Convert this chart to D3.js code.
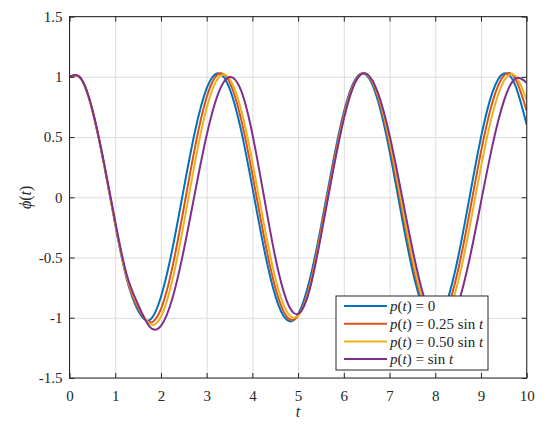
<!DOCTYPE html>
<html>
<head>
<meta charset="utf-8">
<script src="https://d3js.org/d3.v7.min.js"></script>
<style>
  body { margin: 0; background: #fff; }
  svg text { font-family: "Liberation Serif", "DejaVu Serif", serif; fill: #262626; }
  .grid line { stroke: #dcdcdc; stroke-width: 1; }
  .axis line { stroke: #262626; }
  .axis path { display: none; }
</style>
</head>
<body>
<div id="chart"></div>
<script>
// time samples
const tVals = [0, 0.25, 0.5, 0.75, 1, 1.25, 1.5, 1.75, 2, 2.25, 2.5, 2.75, 3, 3.25, 3.5, 3.75,
  4, 4.25, 4.5, 4.75, 5, 5.25, 5.5, 5.75, 6, 6.25, 6.5, 6.75, 7, 7.25, 7.5, 7.75,
  8, 8.25, 8.5, 8.75, 9, 9.25, 9.5, 9.75, 10];

// phi(t), one array per p(t)
const phiP0 = [1.00, 0.984, 0.721, 0.283, -0.224, -0.674, -0.94, -1.020, -0.826, -0.429, 0.072, 0.556, 0.904, 1.030, 0.905, 0.562,
  0.082, -0.417, -0.816, -1.017, -0.972, -0.691, -0.243, 0.263, 0.707, 0.978, 1.013, 0.798, 0.384, -0.124, -0.603, -0.930,
  -1.028, -0.871, -0.498, 0.000, 0.498, 0.871, 1.028, 0.930, 0.603];
const phiP025 = [1.00, 0.984, 0.722, 0.286, -0.218, -0.665, -0.92, -1.038, -0.928, -0.582, -0.089, 0.425, 0.830, 1.022, 0.956, 0.653,
  0.190, -0.320, -0.749, -0.990, -0.985, -0.734, -0.275, 0.230, 0.685, 0.968, 1.020, 0.830, 0.440, -0.056, -0.541, -0.898,
  -1.039, -0.934, -0.603, -0.128, 0.377, 0.789, 1.010, 0.984, 0.717];
const phiP050 = [1.00, 0.985, 0.724, 0.290, -0.210, -0.655, -0.90, -1.050, -0.992, -0.689, -0.219, 0.301, 0.741, 0.989, 0.985, 0.732,
  0.294, -0.215, -0.668, -0.946, -0.983, -0.755, -0.305, 0.200, 0.660, 0.958, 1.023, 0.847, 0.473, -0.015, -0.503, -0.877,
  -1.053, -0.989, -0.700, -0.251, 0.251, 0.690, 0.964, 1.007, 0.808];
const phiP1 = [1.00, 0.988, 0.728, 0.296, -0.200, -0.640, -0.89, -1.073, -1.068, -0.840, -0.438, 0.049, 0.515, 0.858, 0.998, 0.889,
  0.526, 0.015, -0.496, -0.857, -0.968, -0.770, -0.320, 0.190, 0.650, 0.955, 1.024, 0.862, 0.515, 0.053, -0.427, -0.826,
  -1.060, -1.082, -0.885, -0.512, -0.040, 0.429, 0.798, 0.985, 0.951];

const legendLabels = ["p(t) = 0", "p(t) = 0.25 sin t", "p(t) = 0.50 sin t", "p(t) = sin t"];
const colors = ["#0072BD", "#D95319", "#EDB120", "#7E2F8E"];
const xTicks = [0, 1, 2, 3, 4, 5, 6, 7, 8, 9, 10];
const yTicks = [-1.5, -1, -0.5, 0, 0.5, 1, 1.5];

const W = 549, H = 431;
const pLeft = 69.5, pRight = 526.7, pTop = 16.6, pBottom = 378;

const svg = d3.select("#chart").append("svg")
  .attr("width", W).attr("height", H);

const x = d3.scaleLinear().domain([0, 10]).range([pLeft, pRight]);
const y = d3.scaleLinear().domain([-1.5, 1.5]).range([pBottom, pTop]);

// grid
svg.append("g").attr("class", "grid")
  .attr("transform", `translate(0,${pBottom})`)
  .call(d3.axisBottom(x).tickValues(xTicks).tickSize(-(pBottom - pTop)).tickFormat(""))
  .call(g => g.select(".domain").remove());
svg.append("g").attr("class", "grid")
  .attr("transform", `translate(${pLeft},0)`)
  .call(d3.axisLeft(y).tickValues(yTicks).tickSize(-(pRight - pLeft)).tickFormat(""))
  .call(g => g.select(".domain").remove());

// curves
const series = [phiP0, phiP025, phiP050, phiP1];
const line = d3.line()
  .x((d, i) => x(tVals[i]))
  .y(d => y(d))
  .curve(d3.curveNatural);

svg.append("clipPath").attr("id", "clip")
  .append("rect").attr("x", pLeft).attr("y", pTop)
  .attr("width", pRight - pLeft).attr("height", pBottom - pTop);

svg.append("g").attr("clip-path", "url(#clip)")
  .selectAll("path")
  .data(series)
  .join("path")
  .attr("d", line)
  .attr("fill", "none")
  .attr("stroke", (d, i) => colors[i])
  .attr("stroke-width", 2);

// axes, ticks pointing inward
svg.append("g").attr("class", "axis")
  .attr("transform", `translate(0,${pBottom})`)
  .call(d3.axisBottom(x).tickValues(xTicks).tickSize(-5).tickPadding(12).tickFormat(d3.format("d")))
  .call(g => g.selectAll("text").attr("font-size", 15).attr("font-family", null));
svg.append("g").attr("class", "axis")
  .attr("transform", `translate(0,${pTop})`)
  .call(d3.axisTop(x).tickValues(xTicks).tickSize(-5).tickFormat(""));
svg.append("g").attr("class", "axis")
  .attr("transform", `translate(${pLeft},0)`)
  .call(d3.axisLeft(y).tickValues(yTicks).tickSize(-5).tickPadding(7).tickFormat(d => String(d)))
  .call(g => g.selectAll("text").attr("font-size", 15).attr("font-family", null));
svg.append("g").attr("class", "axis")
  .attr("transform", `translate(${pRight},0)`)
  .call(d3.axisRight(y).tickValues(yTicks).tickSize(-5).tickFormat(""));

svg.append("rect")
  .attr("x", pLeft).attr("y", pTop)
  .attr("width", pRight - pLeft).attr("height", pBottom - pTop)
  .attr("fill", "none").attr("stroke", "#262626").attr("stroke-width", 1);

// axis titles
svg.append("text")
  .attr("x", (pLeft + pRight) / 2).attr("y", 417)
  .attr("text-anchor", "middle")
  .attr("font-size", 16).attr("font-style", "italic")
  .text("t");

const yl = svg.append("text")
  .attr("transform", `translate(31,${(pTop + pBottom) / 2}) rotate(-90)`)
  .attr("text-anchor", "middle")
  .attr("font-size", 16);
yl.append("tspan").attr("font-style", "italic").text("\u03D5");
yl.append("tspan").text("(");
yl.append("tspan").attr("font-style", "italic").text("t");
yl.append("tspan").text(")");

// legend
const lx = 336, ly = 296, lw = 152, lh = 74, rowH = 17.7;
const legend = svg.append("g");
legend.append("rect")
  .attr("x", lx).attr("y", ly).attr("width", lw).attr("height", lh)
  .attr("fill", "#fff").attr("stroke", "#262626").attr("stroke-width", 1);

legendLabels.forEach((lab, i) => {
  const cy = ly + 10 + i * rowH;
  legend.append("line")
    .attr("x1", lx + 8).attr("x2", lx + 51)
    .attr("y1", cy).attr("y2", cy)
    .attr("stroke", colors[i]).attr("stroke-width", 2);
  const t = legend.append("text")
    .attr("x", lx + 54).attr("y", cy).attr("dy", "0.35em")
    .attr("font-size", 15);
  lab.split(/(sin|[pt])/).filter(s => s.length).forEach(part => {
    t.append("tspan")
      .attr("font-style", part === "p" || part === "t" ? "italic" : null)
      .text(part);
  });
});
</script>
</body>
</html>
